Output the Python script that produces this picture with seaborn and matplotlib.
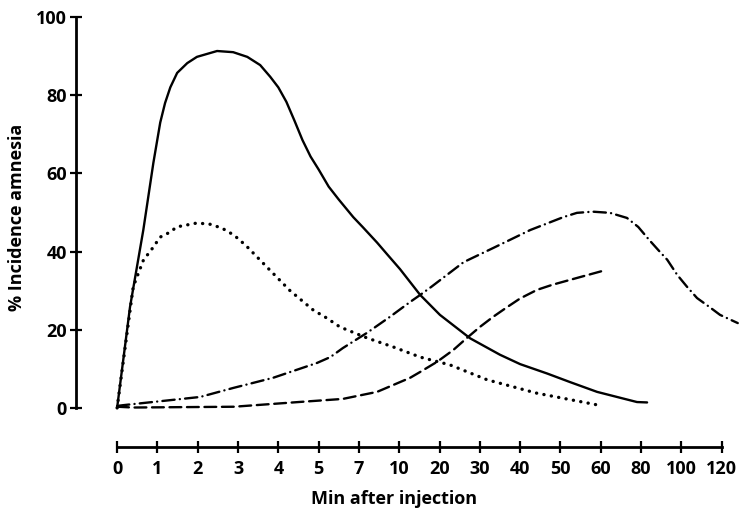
import numpy as np
import pandas as pd
import matplotlib
matplotlib.use("Agg")
import matplotlib.pyplot as plt
import seaborn as sns

# Tick values on the (unevenly spaced) time axis
tick_minutes = [0, 1, 2, 3, 4, 5, 7, 10, 20, 30, 40, 50, 60, 80, 100, 120]
y_ticks = [0, 20, 40, 60, 80, 100]

# Curves (minutes, % incidence)
solid_t = [0, 0.32, 0.65, 0.9, 1.07, 1.19, 1.32, 1.49, 1.74, 1.98, 2.48, 2.88,
           3.23, 3.55, 3.8, 4.0, 4.2, 4.4, 4.6, 4.8, 5.0, 5.5, 6.0, 6.72,
           7.3, 8.35, 9.1, 10.2, 15.2, 20.1, 27.6, 35, 40, 46.7, 52.4,
           59.1, 69.6, 78, 83]
solid_y = [0, 25.8, 45.5, 62.7, 73, 78, 82, 85.7, 88.2, 89.8, 91.3, 91,
           89.8, 87.7, 84.7, 82, 78.3, 73.5, 68.5, 64.3, 61, 56.6, 53.3, 48.8,
           46.2, 42.3, 39.3, 35.5, 28.9, 23.8, 17.8, 13.6, 11.2, 8.8, 6.6,
           4.1, 2.6, 1.5, 1.4]

dotted_t = [0, 0.4, 0.66, 0.82, 1.07, 1.32, 1.48, 1.98, 2.3, 2.6, 2.9, 3.2,
            3.72, 4.29, 4.87, 5.4, 6.06, 7.6, 9.55, 15.2, 22.6, 31.8, 44, 61]
dotted_y = [0, 31, 38, 40, 43.7, 45, 46.3, 47.3, 47, 46, 44.2, 41.5,
            36, 30, 25, 23, 20.7, 17.9, 15.6, 13, 11, 7.2, 3.8, 0.5]

dashdot_t = [0, 0.15, 2.06, 2.88, 3.87, 4.96, 5.58, 6.2, 7.6, 9.31, 12.7, 15.2,
             18, 26, 33.3, 42.5, 50.7, 54.1, 58, 64.6, 73, 78.6, 84, 89.4, 93,
             98, 102.8, 107.8, 114, 119.2, 128]
dashdot_y = [0.5, 0.7, 2.8, 5.1, 7.7, 11.5, 13, 15.3, 19.2, 23.3, 27.1, 28.9,
             31, 37.3, 40.9, 45.5, 48.8, 49.9, 50.2, 49.9, 48.6, 46.3, 43, 39.9,
             37.9, 34, 31, 28.1, 25.8, 23.8, 21.7]

dashed_t = [0, 0.4, 2.9, 4.5, 6.2, 8.35, 12.7, 15.2, 19.4, 23.4, 26.8, 30,
            33.3, 36.8, 40, 44.2, 48, 55, 60.6]
dashed_y = [0.3, 0.1, 0.3, 1.5, 2.3, 4.1, 7.7, 9.2, 11.8, 14.8, 17.9, 20.7,
            23.3, 25.8, 28, 30.2, 31.5, 33.5, 35]

T = np.array(tick_minutes, dtype=float)
P = np.arange(len(T), dtype=float)


# time axis: each labelled tick is one equal step
def fwd(t):
    t = np.asarray(t, dtype=float)
    return np.where(t < 0, t, np.where(t > T[-1], P[-1] + (t - T[-1]) / 20.0,
                                       np.interp(t, T, P)))


def inv(p):
    p = np.asarray(p, dtype=float)
    return np.where(p < 0, p, np.where(p > P[-1], T[-1] + (p - P[-1]) * 20.0,
                                       np.interp(p, P, T)))


sns.set_style("white")
plt.rcParams["font.family"] = ["Open Sans", "DejaVu Sans"]
plt.rcParams["font.weight"] = "bold"

fig = plt.figure(figsize=(7.43, 5.13), dpi=100)
ax = fig.add_axes([76 / 743, 66 / 513, 667 / 743, 430 / 513])
ax.set_xscale("function", functions=(fwd, inv))

curves = [
    (solid_t, solid_y, "-", 1.7),
    (dotted_t, dotted_y, (0, (0.05, 2.2)), 2.4),
    (dashdot_t, dashdot_y, (0, (5.2, 2.2, 0.05, 2.2)), 1.7),
    (dashed_t, dashed_y, (0, (5.0, 2.4)), 1.7),
]
for t, y, ls, lw in curves:
    df = pd.DataFrame({"t": t, "y": y})
    sns.lineplot(data=df, x="t", y="y", ax=ax, color="black", sort=False,
                 linewidth=lw, linestyle=ls, dash_capstyle="round",
                 solid_capstyle="round", solid_joinstyle="round", clip_on=False)

ax.set_xlim(inv(-1.02), inv(15.53))
ax.set_ylim(-10, 100)

for s in ["top", "right"]:
    ax.spines[s].set_visible(False)
ax.spines["left"].set_bounds(0, 100)
ax.spines["bottom"].set_bounds(0, 120)
for s in ["left", "bottom"]:
    ax.spines[s].set_linewidth(2)
    ax.spines[s].set_color("black")

ax.set_xticks(tick_minutes)
ax.set_xticklabels([str(v) for v in tick_minutes])
ax.set_yticks(y_ticks)
ax.set_yticklabels([str(v) for v in y_ticks])
ax.xaxis.set_minor_locator(matplotlib.ticker.NullLocator())
ax.tick_params(axis="both", direction="inout", length=9, width=1.6,
               color="black", labelsize=13, labelcolor="black",
               bottom=True, left=True)
ax.tick_params(axis="x", pad=5)
ax.tick_params(axis="y", pad=2)
for lab in ax.get_xticklabels() + ax.get_yticklabels():
    lab.set_fontweight("bold")

ax.set_xlabel("Min after injection", fontsize=13, fontweight="bold", color="black")
ax.set_ylabel("% Incidence amnesia", fontsize=13, fontweight="bold", color="black")
ax.xaxis.set_label_coords(0.477, -0.1)
ax.yaxis.set_label_coords(-0.075, 0.533)
ax.grid(False)

fig.savefig("out.png", dpi=100)
